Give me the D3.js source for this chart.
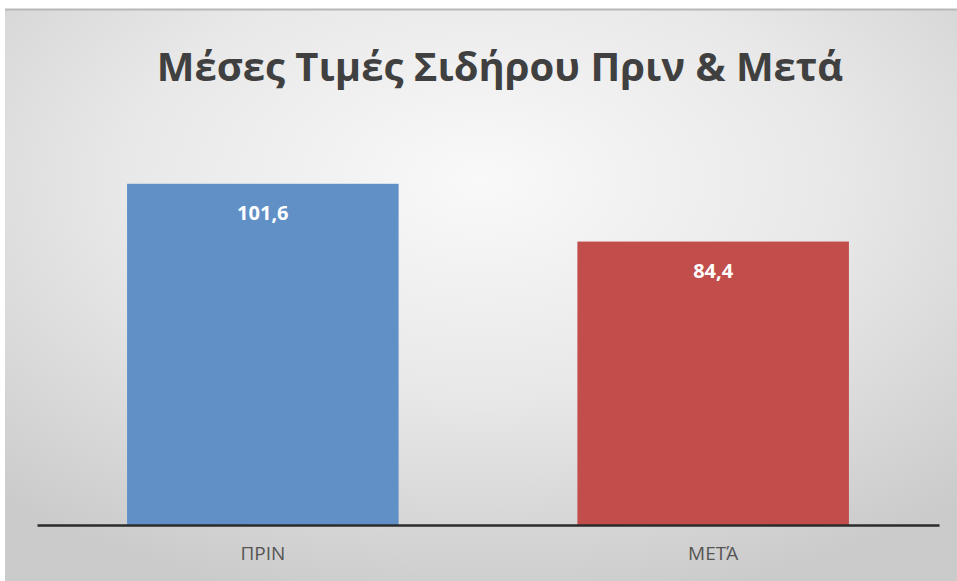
<!DOCTYPE html>
<html>
<head>
<meta charset="utf-8">
<script src="https://cdn.jsdelivr.net/npm/d3@7"></script>
<style>
  body { margin: 0; background: #fff; }
  svg { display: block; }
</style>
</head>
<body>
<svg id="chart" width="957" height="581"></svg>
<script>
var categories = ["ΠΡΙΝ", "ΜΕΤΆ"]
var values = [101.6, 84.4]
var valueLabels = ["101,6", "84,4"]
var barColors = ["#6190c7", "#c24e4c"]
var title = "Μέσες Τιμές Σιδήρου Πριν & Μετά"

var svg = d3.select("#chart")
var W = 957, H = 581

// background gradient
var defs = svg.append("defs")
var grad = defs.append("radialGradient")
  .attr("id", "bg")
  .attr("cx", "50%").attr("cy", "30%").attr("r", "75%")
grad.append("stop").attr("offset", "0%").attr("stop-color", "#f9f9f9")
grad.append("stop").attr("offset", "50%").attr("stop-color", "#e8e8e8")
grad.append("stop").attr("offset", "100%").attr("stop-color", "#cbcbcb")

svg.append("rect")
  .attr("x", 5).attr("y", 9)
  .attr("width", W - 5).attr("height", H - 9)
  .attr("fill", "url(#bg)")
svg.append("line")
  .attr("x1", 5).attr("x2", W).attr("y1", 9.5).attr("y2", 9.5)
  .attr("stroke", "#b8b8b8").attr("stroke-width", 2)

// scales
var x = d3.scaleBand()
  .domain(categories)
  .range([37, 939])
  .paddingInner(0.397)
  .paddingOuter(0.2)

var y = d3.scaleLinear()
  .domain([0, 120])
  .range([525, 122])

// title
svg.append("text")
  .attr("x", 500).attr("y", 81)
  .attr("text-anchor", "middle")
  .style("font-family", "'Open Sans', 'Noto Sans', sans-serif")
  .style("font-weight", "bold")
  .style("font-size", "40px")
  .style("fill", "#404040")
  .text(title)

// bars
svg.append("g").selectAll("rect")
  .data(values)
  .enter()
  .append("rect")
    .attr("x", function(d, i) { return x(categories[i]) })
    .attr("y", function(d) { return y(d) })
    .attr("width", x.bandwidth())
    .attr("height", function(d) { return y(0) - y(d) })
    .attr("fill", function(d, i) { return barColors[i] })

// value labels
svg.append("g").selectAll("text")
  .data(values)
  .enter()
  .append("text")
    .attr("x", function(d, i) { return x(categories[i]) + x.bandwidth() / 2 })
    .attr("y", function(d) { return y(d) + 36 })
    .attr("text-anchor", "middle")
    .style("font-family", "'Open Sans', 'Noto Sans', sans-serif")
    .style("font-weight", "bold")
    .style("font-size", "20px")
    .style("fill", "#ffffff")
    .text(function(d, i) { return valueLabels[i] })

// x axis
var xAxis = d3.axisBottom(x).tickSize(0).tickPadding(22)
var gx = svg.append("g")
  .attr("transform", "translate(0," + y(0) + ")")
  .call(xAxis)
gx.select(".domain")
  .attr("stroke", "#2b2b2b")
  .attr("stroke-width", 2.5)
gx.selectAll(".tick text")
  .style("font-family", "'Open Sans', 'Noto Sans', sans-serif")
  .style("font-size", "19px")
  .style("fill", "#555")
</script>
</body>
</html>
